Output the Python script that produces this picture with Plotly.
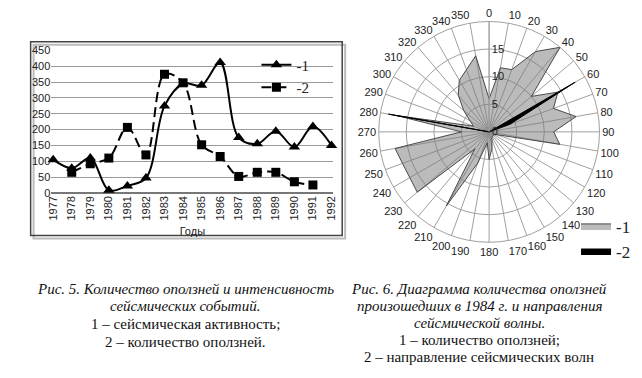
import plotly.graph_objects as go

W, H = 642, 378

# ---- Fig. 5 data ----
years = [1977, 1978, 1979, 1980, 1981, 1982, 1983, 1984, 1985, 1986, 1987, 1988, 1989, 1990, 1991, 1992]
seismic = [105, 78, 110, 8, 22, 47, 275, 345, 340, 412, 175, 155, 195, 145, 210, 150]
ls_years = [1978, 1979, 1980, 1981, 1982, 1983, 1984, 1985, 1986, 1987, 1988, 1989, 1990, 1991]
landslides = [65, 92, 110, 207, 120, 375, 348, 152, 115, 52, 65, 65, 35, 25]
y_ticks = [0, 50, 100, 150, 200, 250, 300, 350, 400, 450]

# ---- Fig. 6 data ----
directions = [0, 10, 20, 30, 40, 50, 60, 70, 80, 90, 100, 110, 120, 130, 140, 150, 160, 170,
              180, 190, 200, 210, 220, 230, 240, 250, 260, 270, 280, 290, 300, 310, 320, 330, 340, 350]
landslide_count = [6, 11.8, 12, 16.8, 20, 10, 14.4, 12.4, 16, 11.7, 13, 1.5, 1, 1, 1, 1, 1.5, 3,
                   5, 2, 6, 15.5, 4, 17, 16.6, 16.7, 17.3, 5, 17, 3, 4, 6, 8.7, 10.8, 12, 14]
wave_dir = [0, 0, 0, 0, 0, 0, 18, 4, 0, 0, 0, 0, 0, 0, 0, 0, 0, 0,
            0, 0, 0, 0, 0, 0, 0, 0, 0, 0, 18.5, 0, 0, 0, 0, 0, 0, 0]
r_ticks = [0, 5, 10, 15]


def px(x):
    return x / W


def py(y):
    return 1 - y / H


fig = go.Figure()

fig.add_trace(go.Scatter(
    x=years, y=seismic, name="-1", mode="lines+markers",
    line=dict(color="black", width=2, shape="spline", smoothing=1),
    marker=dict(symbol="triangle-up", size=10, color="black"),
    cliponaxis=False, legend="legend"))
fig.add_trace(go.Scatter(
    x=ls_years, y=landslides, name="-2", mode="lines+markers",
    line=dict(color="black", width=2, dash="10px,5px", shape="spline", smoothing=1),
    marker=dict(symbol="square", size=9, color="black"),
    cliponaxis=False, legend="legend"))

theta_c = directions + [directions[0]]
fig.add_trace(go.Scatterpolar(
    r=landslide_count + [landslide_count[0]], theta=theta_c, name="-1",
    mode="lines", fill="toself", fillcolor="rgba(120,120,120,0.5)",
    line=dict(color="#4a4a4a", width=1), legend="legend2"))
fig.add_trace(go.Scatterpolar(
    r=wave_dir + [wave_dir[0]], theta=theta_c, name="-2",
    mode="lines", fill="toself", fillcolor="black",
    line=dict(color="black", width=1), legend="legend2"))

fig.update_layout(
    width=W, height=H,
    margin=dict(l=0, r=0, t=0, b=0),
    paper_bgcolor="white", plot_bgcolor="white",
    font=dict(family="Arial", size=11, color="#222"),
    xaxis=dict(domain=[px(47), px(333)], range=[1976.9, 1992.1],
               tickmode="array", tickvals=years, ticktext=[str(y) for y in years],
               tickangle=-90, showgrid=False, zeroline=False, showline=False,
               ticks="", tickfont=dict(size=11, color="#222"),
               title=dict(text="Годы", font=dict(size=11, color="#222"), standoff=7),
               anchor="y"),
    yaxis=dict(domain=[py(193), py(46)], range=[0, 450],
               tickmode="array", tickvals=y_ticks,
               showgrid=True, gridcolor="#9a9a9a", gridwidth=1,
               zeroline=True, zerolinecolor="#777", zerolinewidth=1.5,
               showline=False, ticks="", tickfont=dict(size=11, color="#222"),
               anchor="x"),
    polar=dict(
        domain=dict(x=[px(377), px(605)], y=[py(244), py(16)]),
        bgcolor="white",
        angularaxis=dict(rotation=90, direction="clockwise", tickmode="array",
                         tickvals=directions, ticktext=[str(d) for d in directions],
                         showgrid=True, gridcolor="#a0a0a0", gridwidth=1,
                         showline=True, linecolor="#a0a0a0", linewidth=1, ticks="",
                         tickfont=dict(family="Arial", size=11, color="#222")),
        radialaxis=dict(range=[0, 20], tickmode="array", tickvals=r_ticks,
                        angle=90, tickangle=90, showline=True, linecolor="#a0a0a0",
                        gridcolor="#a0a0a0", gridwidth=1, ticks="",
                        tickfont=dict(family="Arial", size=11, color="#222"))),
    legend=dict(x=px(255), y=py(44), xanchor="left", yanchor="top",
                bgcolor="rgba(0,0,0,0)", borderwidth=0,
                font=dict(family="Liberation Serif", size=15, color="#222")),
    legend2=dict(x=px(640), y=py(209), xanchor="right", yanchor="top",
                 bgcolor="rgba(0,0,0,0)", borderwidth=0, itemwidth=30,
                 font=dict(family="Liberation Serif", size=17, color="#222")),
    showlegend=True,
)

# chart frame with shadow (Fig. 5)
fig.add_shape(type="rect", xref="paper", yref="paper",
              x0=px(29), x1=px(345), y0=py(240), y1=py(40),
              line=dict(color="#bbbbbb", width=2), layer="below")
fig.add_shape(type="rect", xref="paper", yref="paper",
              x0=px(26), x1=px(342), y0=py(237), y1=py(37),
              line=dict(color="#444444", width=1.5), fillcolor="rgba(0,0,0,0)", layer="below")

caption_font = dict(family="Liberation Serif", size=15, color="#111")
left_lines = ["<i>Рис. 5. Количество оползней и интенсивность</i>",
              "<i>сейсмических событий.</i>",
              "1 – сейсмическая активность;",
              "2 – количество оползней."]
right_lines = ["<i>Рис. 6. Диаграмма количества оползней</i>",
               "<i>произошедших в 1984 г. и направления</i>",
               "<i>сейсмической волны.</i>",
               "1 – количество оползней;",
               "2 – направление сейсмических волн"]
for i, t in enumerate(left_lines):
    fig.add_annotation(text=t, xref="paper", yref="paper", x=px(183), y=py(292 + 18.3 * i),
                       showarrow=False, font=caption_font, xanchor="center", yanchor="middle")
for i, t in enumerate(right_lines):
    fig.add_annotation(text=t, xref="paper", yref="paper", x=px(481), y=py(292 + 17.5 * i),
                       showarrow=False, font=caption_font, xanchor="center", yanchor="middle")

fig.write_html("out.html", post_script="document.body.style.margin='0';",
               config={"displayModeBar": False})
